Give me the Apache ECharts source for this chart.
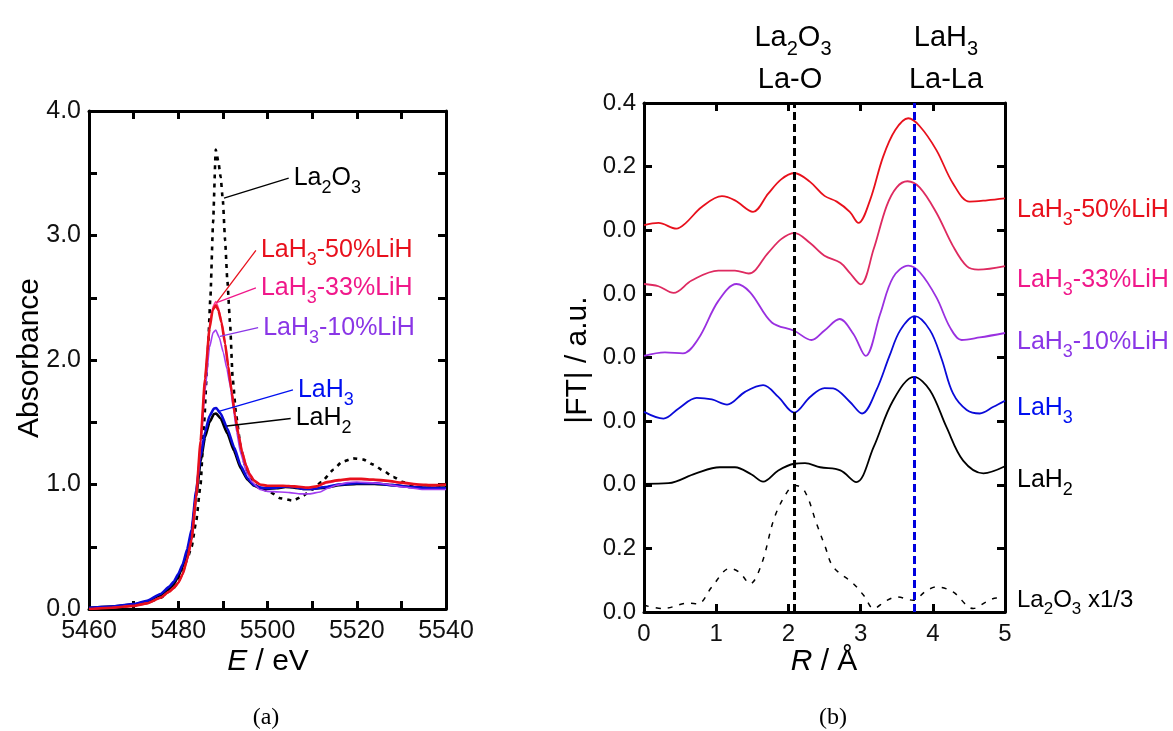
<!DOCTYPE html>
<html><head><meta charset="utf-8">
<script src="https://cdn.jsdelivr.net/npm/echarts@6/dist/echarts.min.js"></script>
<style>html,body{margin:0;padding:0;background:#fff}#c{width:1173px;height:731px}</style>
</head><body><div id="c"></div>
<script>
// ---------- (a) XANES data: [E / eV, absorbance] ----------
const xanesLa2O3 = [[5460,0.0],[5465,0.01],[5470,0.03],[5473,0.05],[5476,0.09],[5479,0.17],[5481,0.3],[5482,0.4],[5483,0.5],[5484,0.7],[5485,1.0],[5485.8,1.5],[5486.6,2.05],[5487.2,2.5],[5487.8,3.1],[5488.4,3.69],[5489,3.59],[5489.5,3.47],[5490,3.28],[5490.5,2.96],[5491,2.64],[5491.6,2.3],[5492.2,1.85],[5493,1.55],[5494,1.3],[5495,1.15],[5496,1.05],[5497,1.0],[5498.3,0.97],[5500.6,0.94],[5502.8,0.89],[5505.8,0.87],[5508,0.91],[5510,0.96],[5512.1,1.02],[5514.8,1.12],[5516.6,1.18],[5519.2,1.21],[5521.5,1.2],[5523.7,1.16],[5526,1.11],[5528.2,1.06],[5530.4,1.02],[5533.4,0.98],[5536,0.975],[5540,0.98]];
const xanesLaH2 = [[5460,0.01],[5465,0.02],[5470,0.035],[5473,0.06],[5476,0.11],[5478,0.16],[5479,0.2],[5480,0.26],[5481,0.34],[5482,0.45],[5483,0.61],[5484,0.9],[5485,1.18],[5486,1.38],[5487,1.5],[5488,1.565],[5488.5,1.57],[5489.5,1.53],[5491,1.41],[5492.5,1.27],[5494,1.13],[5495.5,1.04],[5497,0.99],[5498.5,0.97],[5500,0.965],[5502,0.97],[5504,0.98],[5506,0.975],[5508,0.965],[5510,0.965],[5513,0.975],[5516,0.995],[5520,1.005],[5524,1.005],[5528,0.995],[5532,0.98],[5536,0.975],[5540,0.975]];
const xanesLaH3 = [[5460,0.01],[5465,0.02],[5470,0.04],[5473,0.065],[5476,0.12],[5478,0.18],[5479,0.22],[5480,0.28],[5481,0.36],[5482,0.48],[5483,0.64],[5484,0.95],[5485,1.22],[5486,1.42],[5487,1.55],[5488,1.61],[5488.5,1.615],[5489.5,1.57],[5491,1.45],[5492.5,1.3],[5494,1.15],[5495.5,1.05],[5497,0.995],[5498.5,0.975],[5500,0.97],[5502,0.975],[5504,0.985],[5506,0.98],[5508,0.965],[5510,0.965],[5513,0.98],[5516,1.0],[5520,1.01],[5524,1.01],[5528,0.995],[5532,0.98],[5536,0.97],[5540,0.97]];
const xanes10 = [[5460,0.0],[5465,0.01],[5470,0.025],[5473,0.045],[5476,0.09],[5478,0.14],[5479,0.17],[5480,0.21],[5481,0.28],[5482,0.39],[5483,0.55],[5484,0.88],[5485,1.3],[5486,1.75],[5487,2.1],[5487.8,2.22],[5488.4,2.24],[5489.2,2.18],[5490.1,2.06],[5490.9,1.93],[5491.6,1.8],[5492.4,1.6],[5493.1,1.42],[5494,1.25],[5495.3,1.1],[5496.5,1.02],[5498.3,0.96],[5500,0.945],[5502.8,0.94],[5505,0.935],[5507.3,0.925],[5509.5,0.925],[5511.8,0.94],[5513.5,0.97],[5515.5,0.995],[5518,1.015],[5520,1.02],[5525,1.01],[5530.4,0.98],[5534.9,0.96],[5540,0.96]];
const xanes33 = [[5460,0.0],[5465,0.01],[5470,0.025],[5473,0.045],[5476,0.09],[5478,0.14],[5479,0.17],[5480,0.21],[5481,0.28],[5482,0.4],[5483,0.56],[5484,0.9],[5485,1.35],[5486,1.86],[5487,2.27],[5487.7,2.42],[5488.4,2.47],[5489,2.42],[5489.7,2.31],[5490.5,2.14],[5491.2,1.96],[5492,1.75],[5492.7,1.57],[5493.5,1.41],[5494.3,1.27],[5495.2,1.16],[5496,1.09],[5497,1.035],[5498.3,1.0],[5500,0.99],[5503.5,0.99],[5506,0.985],[5509,0.972],[5511,0.982],[5513.3,1.012],[5516,1.03],[5518.5,1.04],[5521,1.04],[5523.7,1.035],[5527,1.025],[5530,1.01],[5534,0.995],[5537,0.99],[5540,0.995]];
const xanes50 = [[5460,0.0],[5465,0.01],[5470,0.025],[5473,0.045],[5476,0.09],[5478,0.14],[5479,0.17],[5480,0.21],[5481,0.28],[5482,0.4],[5483,0.56],[5484,0.9],[5485,1.35],[5486,1.85],[5487,2.25],[5487.7,2.4],[5488.4,2.44],[5489,2.4],[5489.7,2.3],[5490.5,2.13],[5491.2,1.95],[5492,1.74],[5492.7,1.56],[5493.5,1.4],[5494.3,1.26],[5495.2,1.15],[5496,1.08],[5497,1.03],[5498.3,1.0],[5500,0.99],[5503.5,0.99],[5506,0.985],[5509,0.975],[5511,0.985],[5513.3,1.02],[5516,1.035],[5518.5,1.045],[5521,1.045],[5523.7,1.04],[5527,1.03],[5530,1.015],[5534,1.0],[5537,0.995],[5540,1.0]];
// leader lines of (a): [start, end] in data units
const leadLa2O3 = [[5490.25,3.30],[5504.75,3.46]];
const lead50 = [[5488.6,2.46],[5497.4,2.88]];
const lead33 = [[5488.6,2.46],[5497.4,2.58]];
const lead10 = [[5489.35,2.19],[5497.9,2.26]];
const leadLaH3 = [[5488.9,1.585],[5505.7,1.76]];
const leadLaH2 = [[5490.9,1.47],[5505.2,1.53]];
const xTicksA = [5460, 5540, 10];
const yTicksA = [0, 4, 0.5];

// ---------- (b) |FT| data: [R / Å, |FT|] (each curve drawn above its own baseline) ----------
const ft50 = [[0,0.016],[0.2,0.023],[0.45,0.005],[0.57,0.021],[0.8,0.073],[1.08,0.107],[1.26,0.094],[1.51,0.058],[1.72,0.115],[1.9,0.16],[2.08,0.18],[2.3,0.152],[2.5,0.108],[2.67,0.09],[2.85,0.058],[2.97,0.023],[3.13,0.094],[3.31,0.23],[3.48,0.315],[3.66,0.352],[3.82,0.327],[4.05,0.252],[4.28,0.147],[4.51,0.09],[4.75,0.094],[5.0,0.1]];
const ft33 = [[0,0.031],[0.2,0.024],[0.41,0.003],[0.66,0.042],[1.03,0.073],[1.26,0.073],[1.45,0.064],[1.72,0.129],[1.9,0.172],[2.08,0.192],[2.3,0.16],[2.5,0.12],[2.72,0.098],[2.85,0.066],[3.0,0.03],[3.18,0.14],[3.36,0.276],[3.5,0.335],[3.65,0.354],[3.82,0.334],[4.05,0.255],[4.28,0.15],[4.47,0.087],[4.63,0.076],[5.0,0.087]];
const ft10 = [[0,0.005],[0.29,0.016],[0.54,0.013],[0.75,0.058],[1.03,0.178],[1.28,0.231],[1.47,0.205],[1.77,0.11],[2.08,0.084],[2.32,0.055],[2.5,0.085],[2.71,0.121],[2.9,0.074],[3.07,0.005],[3.27,0.136],[3.45,0.252],[3.66,0.289],[3.82,0.268],[4.05,0.189],[4.24,0.094],[4.4,0.055],[4.65,0.063],[5.0,0.077]];
const ftLaH3 = [[0,0.029],[0.27,0.008],[0.48,0.04],[0.73,0.073],[0.94,0.068],[1.15,0.052],[1.4,0.092],[1.65,0.113],[1.86,0.076],[2.08,0.027],[2.3,0.076],[2.5,0.104],[2.62,0.103],[2.85,0.061],[3.02,0.024],[3.22,0.098],[3.4,0.205],[3.55,0.286],[3.75,0.33],[3.96,0.286],[4.12,0.197],[4.28,0.087],[4.47,0.035],[4.65,0.024],[4.84,0.045],[5.0,0.064]];
const ftLaH2 = [[0,0.003],[0.34,0.005],[0.71,0.035],[1.05,0.055],[1.26,0.055],[1.49,0.032],[1.65,0.01],[1.86,0.045],[2.08,0.066],[2.23,0.068],[2.44,0.055],[2.72,0.045],[2.94,0.008],[3.18,0.118],[3.45,0.265],[3.74,0.339],[3.96,0.297],[4.19,0.181],[4.42,0.076],[4.7,0.036],[5.0,0.058]];
const ftLa2O3 = [[0,0.021],[0.27,0.011],[0.61,0.028],[0.75,0.026],[0.94,0.079],[1.19,0.137],[1.32,0.125],[1.47,0.089],[1.63,0.152],[1.81,0.299],[2.0,0.383],[2.1,0.398],[2.23,0.378],[2.39,0.278],[2.51,0.205],[2.62,0.142],[2.9,0.089],[3.05,0.05],[3.18,0.011],[3.35,0.035],[3.5,0.047],[3.73,0.037],[3.9,0.065],[4.05,0.079],[4.28,0.063],[4.56,0.011],[4.75,0.033],[4.88,0.044],[5.0,0.044]];
const ftOffsets = [1.2, 1.0, 0.8, 0.6, 0.4, 0.0]; // 50%, 33%, 10%, LaH3, LaH2, La2O3
const refLines = [2.08, 3.74];                   // La-O, La-La
const yTickLabelsB = ['0.0','0.2','0.0','0.0','0.0','0.0','0.0','0.2','0.4'];
const xTicksB = [0, 5, 1];
const yTicksB = [0, 1.6, 0.2];

const FONT = '"Liberation Sans", Arial, sans-serif';
const C = {red:'#e8101c', pink:'#ff3a96', pinkB:'#de2a60', pinkL:'#f0188a', purple:'#a23cf0', purpleB:'#9a30e0', purpleL:'#8a36e6', blue:'#0a0ad8', blueL:'#0010f0', black:'#000'};

function rich(color, size){
  return {
    n:{fontSize:size, fontFamily:FONT, color:color},
    s:{fontSize:Math.round(size*0.7), fontFamily:FONT, color:color, padding:[Math.round(size*0.78),0,0,0], verticalAlign:'bottom'}
  };
}
function shift(arr, off){ return arr.map(p => [p[0], p[1] + off]); }

const axLine = {show:true, onZero:false, lineStyle:{color:'#000', width:3}};
const axTick = {show:true, inside:true, length:8, lineStyle:{color:'#000', width:3}};
function xAx(grid, t, pos, labels){
  return {type:'value', gridIndex:grid, position:pos, min:t[0], max:t[1], interval:t[2],
    axisLine:axLine, axisTick:axTick, splitLine:{show:false},
    axisLabel: labels ? Object.assign({show:true, color:'#111', fontSize:24, fontFamily:FONT, margin:10}, labels) : {show:false}};
}
function yAx(grid, t, pos, labels){
  return {type:'value', gridIndex:grid, position:pos, min:t[0], max:t[1], interval:t[2],
    axisLine:axLine, axisTick:axTick, splitLine:{show:false},
    axisLabel: labels ? Object.assign({show:true, color:'#111', fontSize:24, fontFamily:FONT, margin:8}, labels) : {show:false}};
}

function lineA(data, color, width, dash, z){
  return {type:'line', xAxisIndex:0, yAxisIndex:0, data:data, showSymbol:false, symbol:'none', smooth:0.15, smoothMonotone:'x',
    lineStyle:{color:color, width:width, type:dash||'solid'}, z:z||2, silent:true};
}
function leader(data, color, text){
  return {type:'line', xAxisIndex:0, yAxisIndex:0, data:data, showSymbol:false, symbol:'none',
    lineStyle:{color:color, width:1.3}, z:5, silent:true,
    endLabel:{show:true, distance:5, formatter:text, rich:rich(color,25)}};
}
function lineB(data, off, color, width, dash){
  return {type:'line', xAxisIndex:2, yAxisIndex:2, data:shift(data, off), showSymbol:false, symbol:'none', smooth:0.35,
    lineStyle:{color:color, width:width, type:dash||'solid'}, silent:true};
}

const series = [
  lineA(xanesLa2O3, C.black, 2.6, [4,5], 1),
  lineA(xanesLaH2, C.black, 2.6),
  lineA(xanesLaH3, C.blue, 2.6),
  lineA(xanes10, C.purple, 1.6),
  lineA(xanes33, C.pink, 1.6),
  lineA(xanes50, C.red, 2.6),
  leader(leadLa2O3, C.black, '{n|La}{s|2}{n|O}{s|3}'),
  leader(lead50, C.red, '{n|LaH}{s|3}{n|-50%LiH}'),
  leader(lead33, C.pinkL, '{n|LaH}{s|3}{n|-33%LiH}'),
  leader(lead10, C.purpleL, '{n|LaH}{s|3}{n|-10%LiH}'),
  leader(leadLaH3, C.blueL, '{n|LaH}{s|3}'),
  leader(leadLaH2, C.black, '{n|LaH}{s|2}'),
  Object.assign(lineB(ftLa2O3, ftOffsets[5], C.black, 1.5, [5,7]), {
    markLine:{silent:true, symbol:['none','none'], label:{show:false},
      lineStyle:{type:[8,4], width:3},
      data:[{xAxis:refLines[0], lineStyle:{color:'#000'}}, {xAxis:refLines[1], lineStyle:{color:'#0000dd'}}]}
  }),
  lineB(ftLaH2, ftOffsets[4], C.black, 1.8),
  lineB(ftLaH3, ftOffsets[3], C.blue, 1.8),
  lineB(ft10, ftOffsets[2], C.purpleB, 1.8),
  lineB(ft33, ftOffsets[1], C.pinkB, 1.8),
  lineB(ft50, ftOffsets[0], C.red, 1.8)
];

function gtext(x, y, text, color, size, extra){
  return Object.assign({type:'text', x:x, y:y, silent:true, z:10,
    style:Object.assign({text:text, fill:color, font: size+'px '+FONT, align:'left', verticalAlign:'middle', rich:rich(color,size)}, extra||{})});
}
const TITLE = 30;
const graphic = [
  // right-hand labels of (b)
  gtext(1017, 210, '{n|LaH}{s|3}{n|-50%LiH}', C.red, 25),
  gtext(1017, 280, '{n|LaH}{s|3}{n|-33%LiH}', C.pinkL, 25),
  gtext(1017, 342, '{n|LaH}{s|3}{n|-10%LiH}', C.purpleL, 25),
  gtext(1017, 408, '{n|LaH}{s|3}', C.blueL, 25),
  gtext(1017, 480, '{n|LaH}{s|2}', '#000', 25),
  gtext(1017, 600, '{n|La}{s|2}{n|O}{s|3}{n| x1/3}', '#000', 24),
  // top labels of (b)
  gtext(793, 38, '{n|La}{s|2}{n|O}{s|3}', '#000', 29, {align:'center'}),
  gtext(790, 80, '{n|La-O}', '#000', 29, {align:'center'}),
  gtext(946, 38, '{n|LaH}{s|3}', '#000', 29, {align:'center'}),
  gtext(946, 80, '{n|La-La}', '#000', 29, {align:'center'}),
  // axis titles
  {type:'text', x:30, y:358, rotation:Math.PI/2, silent:true,
    style:{text:'Absorbance', fill:'#000', font:TITLE+'px '+FONT, align:'center', verticalAlign:'middle'}},
  {type:'text', x:578, y:360, rotation:Math.PI/2, silent:true,
    style:{text:'|FT| / a.u.', fill:'#000', font:TITLE+'px '+FONT, align:'center', verticalAlign:'middle'}},
  {type:'text', x:268, y:662, silent:true,
    style:{text:'{i|E}{n| / eV}', align:'center', verticalAlign:'middle',
      rich:{i:{fontSize:TITLE, fontFamily:FONT, fontStyle:'italic', color:'#000'}, n:{fontSize:TITLE, fontFamily:FONT, color:'#000'}}}},
  {type:'text', x:824, y:662, silent:true,
    style:{text:'{i|R}{n| / Å}', align:'center', verticalAlign:'middle',
      rich:{i:{fontSize:TITLE, fontFamily:FONT, fontStyle:'italic', color:'#000'}, n:{fontSize:TITLE, fontFamily:FONT, color:'#000'}}}},
  // panel captions
  {type:'text', x:266, y:718, silent:true,
    style:{text:'(a)', fill:'#000', font:'24px "Liberation Serif", "Times New Roman", serif', align:'center', verticalAlign:'middle'}},
  {type:'text', x:833, y:718, silent:true,
    style:{text:'(b)', fill:'#000', font:'24px "Liberation Serif", "Times New Roman", serif', align:'center', verticalAlign:'middle'}}
];

const chart = echarts.init(document.getElementById('c'), null, {renderer:'canvas'});
chart.setOption({
  animation:false,
  backgroundColor:'#fff',
  grid:[
    {left:89, top:111, width:357, height:498},
    {left:644, top:103, width:361, height:509}
  ],
  xAxis:[
    xAx(0, xTicksA, 'bottom', {fontSize:25, formatter:v => (v % 20 === 0 ? String(v) : '')}),
    xAx(0, xTicksA, 'top', null),
    xAx(1, xTicksB, 'bottom', {formatter:v => String(v)}),
    xAx(1, xTicksB, 'top', null)
  ],
  yAxis:[
    yAx(0, yTicksA, 'left', {fontSize:25, formatter:v => (Math.abs(v - Math.round(v)) < 1e-6 ? v.toFixed(1) : '')}),
    yAx(0, yTicksA, 'right', null),
    yAx(1, yTicksB, 'left', {formatter:v => yTickLabelsB[Math.round(v / yTicksB[2])] || ''}),
    yAx(1, yTicksB, 'right', null)
  ],
  series:series,
  graphic:graphic
});
</script></body></html>
